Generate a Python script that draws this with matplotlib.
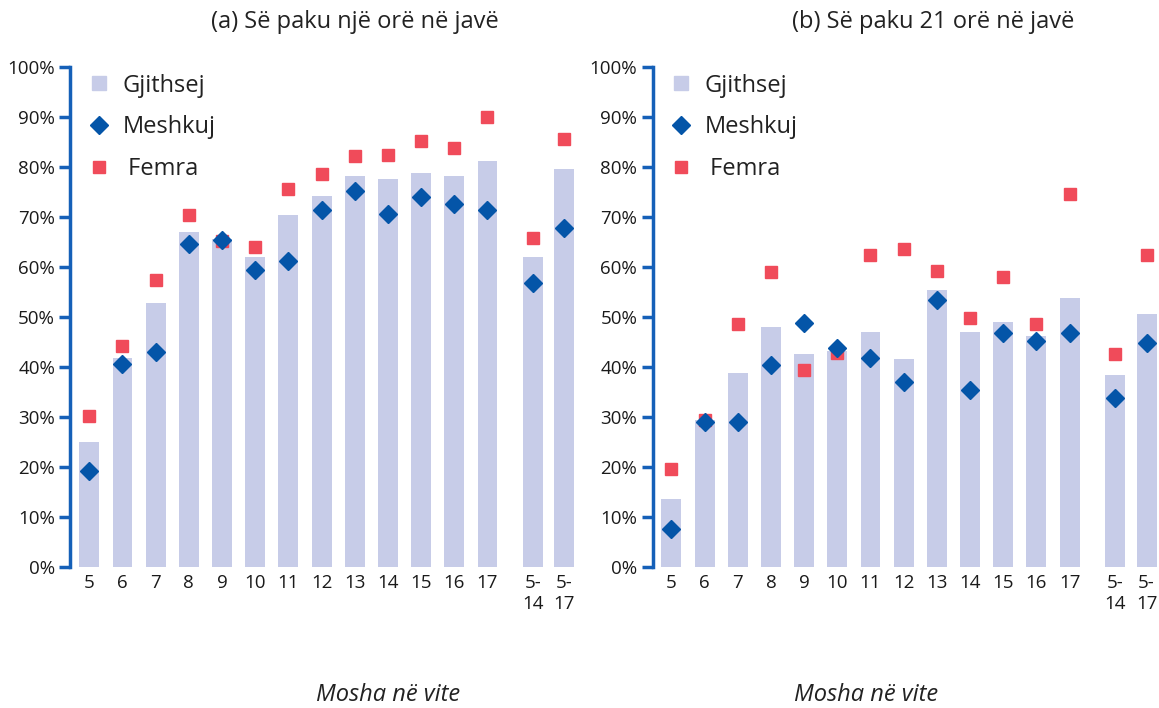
import matplotlib.pyplot as plt
from matplotlib.lines import Line2D

plt.rcParams['font.family'] = ['Open Sans', 'DejaVu Sans']

# moshat dhe pozicionet ne bosht
mosha = ["5", "6", "7", "8", "9", "10", "11", "12", "13", "14", "15", "16", "17", "5-\n14", "5-\n17"]
poz = [0, 1, 2, 3, 4, 5, 6, 7, 8, 9, 10, 11, 12, 13.37, 14.32]

# (a) Se paku nje ore ne jave
a_gjithsej = [25, 41.8, 52.8, 67, 65.6, 62, 70.4, 74.2, 78.2, 77.6, 78.8, 78.2, 81.2, 62, 79.6]
a_meshkuj = [19.2, 40.6, 43, 64.6, 65.4, 59.4, 61.2, 71.4, 75.2, 70.6, 74, 72.6, 71.4, 56.8, 67.8]
a_femra = [30.2, 44.2, 57.4, 70.4, 65.2, 64, 75.6, 78.6, 82.2, 82.4, 85.2, 83.8, 90, 65.8, 85.6]

# (b) Se paku 21 ore ne jave
b_gjithsej = [13.7, 29.4, 38.8, 48, 42.6, 43.2, 47, 41.6, 55.5, 47, 49, 46.2, 53.8, 38.4, 50.6]
b_meshkuj = [7.6, 29, 29, 40.4, 48.9, 43.8, 41.9, 37, 53.5, 35.4, 46.9, 45.3, 46.9, 33.8, 44.8]
b_femra = [19.7, 29.4, 48.6, 59.1, 39.4, 42.8, 62.5, 63.7, 59.3, 49.8, 58.1, 48.7, 74.6, 42.7, 62.5]

bar_col = "#c7cce8"
m_col = "#0455a8"
f_col = "#f04b5a"
ax_col = "#1560b8"

fig = plt.figure(figsize=(11.59, 7.08), dpi=100)
ax1 = fig.add_axes([70.4/1159, 1 - 567/708, 505/1159, 500/708])
ax2 = fig.add_axes([652.5/1159, 1 - 567/708, 505/1159, 500/708])

for ax, g, m, f in [(ax1, a_gjithsej, a_meshkuj, a_femra), (ax2, b_gjithsej, b_meshkuj, b_femra)]:
    ax.bar(poz, g, width=0.6, color=bar_col, zorder=1)
    ax.plot(poz, m, linestyle="none", marker="D", color=m_col, markersize=9, zorder=3)
    ax.plot(poz, f, linestyle="none", marker="s", color=f_col, markersize=8.5, zorder=2)
    ax.set_xlim(-0.57, 14.65)
    ax.set_ylim(0, 100)
    ax.set_yticks(range(0, 101, 10))
    ax.set_yticklabels([f"{v}%" for v in range(0, 101, 10)], fontsize=13.5, color="#1a1a1a")
    ax.set_xticks(poz)
    ax.set_xticklabels(mosha, fontsize=13.5, color="#1a1a1a", va="top", linespacing=1.25)
    for s in ["top", "right", "bottom"]:
        ax.spines[s].set_visible(False)
    ax.spines["left"].set_color(ax_col)
    ax.spines["left"].set_linewidth(2.5)
    ax.tick_params(axis="y", colors=ax_col, length=8, width=2.5, labelcolor="#1a1a1a", pad=3)
    ax.tick_params(axis="x", length=0, pad=5)
    handles = [
        Line2D([], [], linestyle="none", marker="s", color=bar_col, markersize=10),
        Line2D([], [], linestyle="none", marker="D", color=m_col, markersize=9),
        Line2D([], [], linestyle="none", marker="s", color=f_col, markersize=8.5),
    ]
    ax.legend(handles, ["Gjithsej", "Meshkuj", " Femra"], loc="upper left",
              bbox_to_anchor=(0.0, 1.02), frameon=False, fontsize=17,
              handlelength=1.0, handletextpad=0.5, labelspacing=0.75,
              borderaxespad=0.3, borderpad=0.4, labelcolor="#222222")

fig.text(355/1159, 1 - 22/708, "(a) Së paku një orë në javë", ha="center", va="center",
         fontsize=17, color="#222222")
fig.text(933/1159, 1 - 22/708, "(b) Së paku 21 orë në javë", ha="center", va="center",
         fontsize=17, color="#222222")
fig.text(388/1159, 1 - 695/708, "Mosha në vite", ha="center", va="center",
         fontsize=17, style="italic", color="#222222")
fig.text(866/1159, 1 - 695/708, "Mosha në vite", ha="center", va="center",
         fontsize=17, style="italic", color="#222222")

fig.savefig("out.png", dpi=100)
